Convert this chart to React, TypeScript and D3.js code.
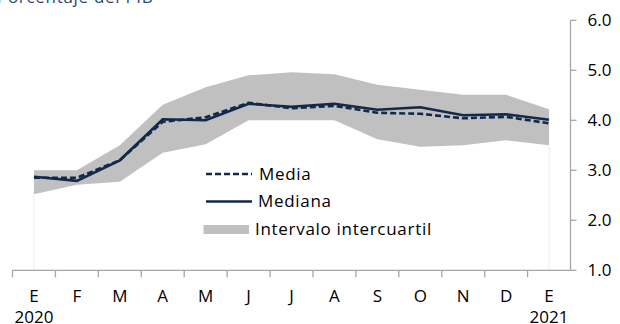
import React from "react";
import * as d3 from "d3";

const months = ["E", "F", "M", "A", "M", "J", "J", "A", "S", "O", "N", "D", "E"];
const keys = months.map((_, i) => `m${i}`);
const yearLabels = [
  { index: 0, label: "2020" },
  { index: 12, label: "2021" },
];
const upperQ = [3.0, 3.0, 3.5, 4.31, 4.66, 4.9, 4.96, 4.92, 4.71, 4.61, 4.51, 4.51, 4.22];
const lowerQ = [2.52, 2.71, 2.77, 3.35, 3.52, 4.0, 4.0, 4.0, 3.62, 3.47, 3.5, 3.6, 3.5];
const medianVals = [2.87, 2.79, 3.2, 4.02, 4.0, 4.33, 4.27, 4.33, 4.21, 4.26, 4.1, 4.12, 4.01];
const meanVals = [2.85, 2.85, 3.2, 3.97, 4.06, 4.35, 4.24, 4.29, 4.15, 4.13, 4.04, 4.07, 3.94];
const yTicks = [1, 2, 3, 4, 5, 6];
const legendItems = ["Media", "Mediana", "Intervalo intercuartil"];
const title = "Porcentaje del PIB";

const W = 620;
const H = 324;
const FONT = "'Open Sans', Lato, sans-serif";
const FS = 17;
const LS = 0.7;
const NAVY = "#13294b";
const AXIS = "#a6a6a6";
const BAND = "#c0c0c0";

export default function App() {
  const x = d3.scaleBand<string>().domain(keys).range([12.5, 570.5]).padding(0);
  const y = d3.scaleLinear().domain([1, 6]).range([270.3, 20.3]);
  const cx = (i: number) => (x(keys[i]) as number) + x.bandwidth() / 2;

  const area = d3
    .area<number>()
    .x((_, i) => cx(i))
    .y0((_, i) => y(lowerQ[i]))
    .y1((d) => y(d));
  const line = d3
    .line<number>()
    .x((_, i) => cx(i))
    .y((d) => y(d));

  const axisY = y(1);
  const axisX = 570.5;
  const boundaries = keys.map((k) => x(k) as number);

  return (
    <svg
      width={W}
      height={H}
      style={{ position: "absolute", left: 0, top: 0, background: "#fff" }}
      fontFamily={FONT}
    >
      <text x={-3} y={3} fontSize={FS} letterSpacing={LS} fill="#2a4a72">
        {title}
      </text>

      {/* faint edges */}
      <line x1={cx(0)} x2={cx(0)} y1={y(lowerQ[0])} y2={axisY} stroke="#eeeeee" strokeWidth={1} />
      <line x1={cx(12)} x2={cx(12)} y1={y(lowerQ[12])} y2={axisY} stroke="#eeeeee" strokeWidth={1} />

      <path d={area(upperQ) || ""} fill={BAND} />
      <path d={line(medianVals) || ""} fill="none" stroke={NAVY} strokeWidth={2.6} />
      <path
        d={line(meanVals) || ""}
        fill="none"
        stroke={NAVY}
        strokeWidth={2.6}
        strokeDasharray="6,3"
      />

      {/* x axis */}
      <line x1={12.5} x2={axisX} y1={axisY} y2={axisY} stroke={AXIS} strokeWidth={1.3} />
      {boundaries.map((b, i) => (
        <line key={i} x1={b} x2={b} y1={axisY} y2={axisY + 7} stroke={AXIS} strokeWidth={1.3} />
      ))}
      {months.map((m, i) => (
        <text key={i} x={cx(i)} y={302} fontSize={FS} textAnchor="middle" fill="#000">
          {m}
        </text>
      ))}
      {yearLabels.map((d) => (
        <text key={d.label} x={cx(d.index)} y={322.5} fontSize={FS} textAnchor="middle" fill="#000">
          {d.label}
        </text>
      ))}

      {/* y axis */}
      <line x1={axisX} x2={axisX} y1={y(6)} y2={axisY} stroke={AXIS} strokeWidth={1.3} />
      {yTicks.map((t) => (
        <g key={t}>
          <line x1={axisX} x2={axisX + 6} y1={y(t)} y2={y(t)} stroke={AXIS} strokeWidth={1.3} />
          <text x={587.5} y={y(t) + 6} fontSize={FS} fill="#000">
            {d3.format(".1f")(t)}
          </text>
        </g>
      ))}

      {/* legend */}
      <line x1={206} x2={252} y1={174} y2={174} stroke={NAVY} strokeWidth={2.6} strokeDasharray="6,3" />
      <text x={259} y={179.5} fontSize={FS} letterSpacing={LS} fill="#000">
        {legendItems[0]}
      </text>
      <line x1={206} x2={252} y1={201.5} y2={201.5} stroke={NAVY} strokeWidth={2.6} />
      <text x={258} y={207} fontSize={FS} letterSpacing={LS} fill="#000">
        {legendItems[1]}
      </text>
      <rect x={203.5} y={225} width={45.5} height={9} fill={BAND} />
      <text x={255} y={235} fontSize={FS} letterSpacing={LS} fill="#000">
        {legendItems[2]}
      </text>
    </svg>
  );
}
